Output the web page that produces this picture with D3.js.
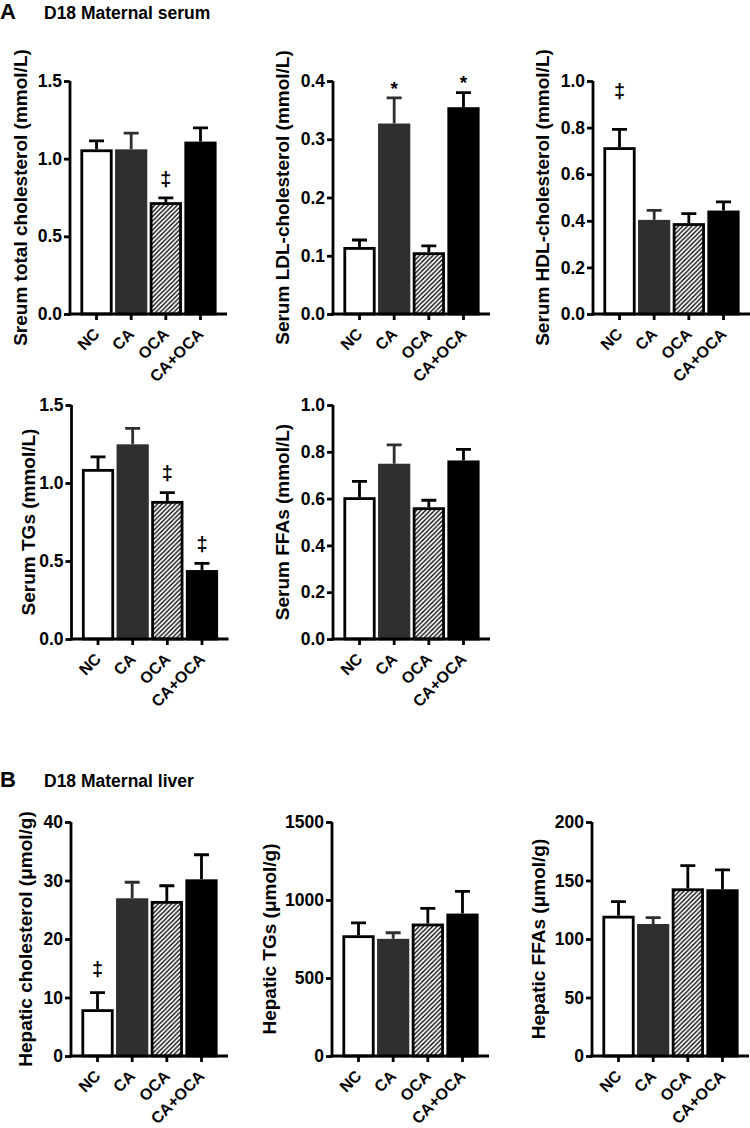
<!DOCTYPE html>
<html>
<head>
<meta charset="utf-8">
<script src="https://cdn.jsdelivr.net/npm/d3@7/dist/d3.min.js"></script>
<style>
  html, body { margin: 0; padding: 0; background: #fff; }
  svg { display: block; font-family: "Liberation Sans", Arial, Helvetica, sans-serif; font-weight: bold; }
</style>
</head>
<body>
<svg id="chart" width="750" height="1128"></svg>
<script>
// ---------------- DATA ----------------
const categories = ["NC", "CA", "OCA", "CA+OCA"];

const serumTCMean  = [1.06, 1.06, 0.72, 1.11];
const serumTCErr   = [0.055, 0.105, 0.028, 0.088];
const serumTCMarks = ["", "", "‡", ""];
const serumTCTicks = [0, 0.5, 1.0, 1.5];

const serumLDLMean  = [0.115, 0.327, 0.106, 0.355];
const serumLDLErr   = [0.012, 0.044, 0.011, 0.025];
const serumLDLMarks = ["", "*", "", "*"];
const serumLDLTicks = [0, 0.1, 0.2, 0.3, 0.4];

const serumHDLMean  = [0.716, 0.404, 0.39, 0.444];
const serumHDLErr   = [0.076, 0.041, 0.041, 0.037];
const serumHDLMarks = ["‡", "", "", ""];
const serumHDLTicks = [0, 0.2, 0.4, 0.6, 0.8, 1.0];

const serumTGMean  = [1.09, 1.248, 0.885, 0.442];
const serumTGErr   = [0.077, 0.102, 0.053, 0.043];
const serumTGMarks = ["", "", "‡", "‡"];
const serumTGTicks = [0, 0.5, 1.0, 1.5];

const serumFFAMean  = [0.606, 0.749, 0.563, 0.763];
const serumFFAErr   = [0.068, 0.081, 0.030, 0.047];
const serumFFAMarks = ["", "", "", ""];
const serumFFATicks = [0, 0.2, 0.4, 0.6, 0.8, 1.0];

const hepCholMean  = [8.0, 26.96, 26.5, 30.2];
const hepCholErr   = [2.85, 2.74, 2.6, 4.2];
const hepCholMarks = ["‡", "", "", ""];
const hepCholTicks = [0, 10, 20, 30, 40];

const hepTGMean  = [774, 751, 849, 913];
const hepTGErr   = [79, 39, 97, 142];
const hepTGMarks = ["", "", "", ""];
const hepTGTicks = [0, 500, 1000, 1500];

const hepFFAMean  = [119.9, 112.8, 143.3, 142.5];
const hepFFAErr   = [12.0, 5.4, 19.4, 16.5];
const hepFFAMarks = ["", "", "", ""];
const hepFFATicks = [0, 50, 100, 150, 200];

const sectionLetters = ["A", "B"];
const sectionTitles  = ["D18 Maternal serum", "D18 Maternal liver"];

// ---------------- LAYOUT / STYLE ----------------
const rows = [[81, 314], [405, 639], [822, 1056]];
const panels = [
  {mean: serumTCMean,  err: serumTCErr,  marks: serumTCMarks,  ticks: serumTCTicks,  fmt: ".1f", title: "Sreum total cholesterol (mmol/L)", ax: 70,  row: 0, lx: 22,  gap: 18},
  {mean: serumLDLMean, err: serumLDLErr, marks: serumLDLMarks, ticks: serumLDLTicks, fmt: ".1f", title: "Serum LDL-cholesterol (mmol/L)",   ax: 333, row: 0, lx: 284, gap: 15},
  {mean: serumHDLMean, err: serumHDLErr, marks: serumHDLMarks, ticks: serumHDLTicks, fmt: ".1f", title: "Serum HDL-cholesterol (mmol/L)",   ax: 593, row: 0, lx: 544, gap: 38},
  {mean: serumTGMean,  err: serumTGErr,  marks: serumTGMarks,  ticks: serumTGTicks,  fmt: ".1f", title: "Serum TGs (mmol/L)",               ax: 71.5, row: 1, lx: 30, gap: 19},
  {mean: serumFFAMean, err: serumFFAErr, marks: serumFFAMarks, ticks: serumFFATicks, fmt: ".1f", title: "Serum FFAs (mmol/L)",              ax: 333, row: 1, lx: 284, gap: 18},
  {mean: hepCholMean,  err: hepCholErr,  marks: hepCholMarks,  ticks: hepCholTicks,  fmt: "d",   title: "Hepatic cholesterol (μmol/g)",     ax: 71,  row: 2, lx: 27,  gap: 23},
  {mean: hepTGMean,    err: hepTGErr,    marks: hepTGMarks,    ticks: hepTGTicks,    fmt: "d",   title: "Hepatic TGs (μmol/g)",             ax: 332, row: 2, lx: 271, gap: 18},
  {mean: hepFFAMean,   err: hepFFAErr,   marks: hepFFAMarks,   ticks: hepFFATicks,   fmt: "d",   title: "Hepatic FFAs (μmol/g)",            ax: 592, row: 2, lx: 540, gap: 18}
];
const fills   = ["#ffffff", "#2f2f2f", "url(#hatch)", "#000000"];
const strokes = ["#000000", "#2f2f2f", "#000000", "#000000"];
const errCols = ["#000000", "#2f2f2f", "#000000", "#000000"];
const AXIS_LEN = 157;
const LW = 2.8;

const svg = d3.select("#chart");
svg.append("rect").attr("width", 750).attr("height", 1128).attr("fill", "#fff");

const defs = svg.append("defs");
const pat = defs.append("pattern").attr("id", "hatch")
  .attr("patternUnits", "userSpaceOnUse").attr("width", 4.5).attr("height", 4.5);
pat.append("rect").attr("width", 4.5).attr("height", 4.5).attr("fill", "#fff");
pat.append("path").attr("d", "M-1,1 L1,-1 M0,4.5 L4.5,0 M3.5,5.5 L5.5,3.5")
  .attr("stroke", "#000").attr("stroke-width", 1.3);

// section headings
const headY = [19, 787];
sectionLetters.forEach((L, i) => {
  svg.append("text").attr("x", 0).attr("y", headY[i]).attr("font-size", 22).text(L);
  svg.append("text").attr("x", 44).attr("y", headY[i]).attr("font-size", 17.5).text(sectionTitles[i]);
});

panels.forEach(p => {
  const [yTop, y0] = rows[p.row];
  const g = svg.append("g");
  const x = d3.scaleBand().domain(categories).range([p.ax, p.ax + AXIS_LEN])
    .paddingInner(0.07).paddingOuter(0.3);
  const y = d3.scaleLinear().domain([0, p.ticks[p.ticks.length - 1]]).range([y0, yTop]);

  const data = categories.map((c, i) => ({c, i, m: p.mean[i], e: p.err[i], mk: p.marks[i]}));

  // bars
  g.selectAll("rect.bar").data(data).join("rect").attr("class", "bar")
    .attr("x", d => x(d.c) + LW / 2)
    .attr("width", x.bandwidth() - LW)
    .attr("y", d => y(d.m) + LW / 2)
    .attr("height", d => y0 - y(d.m) - LW / 2)
    .attr("fill", d => fills[d.i])
    .attr("stroke", d => strokes[d.i])
    .attr("stroke-width", LW);

  // error bars
  const cap = 15;
  g.selectAll("path.err").data(data).join("path").attr("class", "err")
    .attr("d", d => {
      const cx = x(d.c) + x.bandwidth() / 2;
      const yt = y(d.m + d.e), yb = y(d.m);
      return `M${cx},${yb}V${yt}M${cx - cap / 2},${yt}H${cx + cap / 2}`;
    })
    .attr("fill", "none").attr("stroke", d => errCols[d.i]).attr("stroke-width", LW);

  // significance marks
  g.selectAll("text.mark").data(data.filter(d => d.mk)).join("text").attr("class", "mark")
    .attr("x", d => x(d.c) + x.bandwidth() / 2)
    .attr("y", d => y(d.m + d.e) - p.gap)
    .attr("dy", d => d.mk === "*" ? "0.62em" : "0.32em")
    .attr("text-anchor", "middle").attr("font-size", d => d.mk === "*" ? 19 : 20)
    .attr("fill", "#000")
    .text(d => d.mk);

  // y axis
  const yAxis = g.append("g").attr("transform", `translate(${p.ax},0)`)
    .call(d3.axisLeft(y).tickValues(p.ticks).tickFormat(d3.format(p.fmt)).tickSizeInner(6).tickSizeOuter(0).tickPadding(2));
  yAxis.select(".domain").attr("stroke-width", LW).attr("stroke", "#000")
    .attr("d", `M0,${y0 + LW / 2}V${yTop}`);
  yAxis.selectAll(".tick line").attr("stroke-width", LW);
  yAxis.selectAll(".tick text").attr("font-size", 17.5).attr("font-family", null).attr("fill", "#000");

  // x axis
  const xAxis = g.append("g").attr("transform", `translate(0,${y0})`)
    .call(d3.axisBottom(x).tickSizeInner(6).tickSizeOuter(0).tickFormat(""));
  xAxis.select(".domain").attr("stroke-width", LW).attr("stroke", "#000")
    .attr("d", `M${p.ax - LW / 2},0H${p.ax + AXIS_LEN}`);
  xAxis.selectAll(".tick line").attr("stroke-width", LW);
  xAxis.selectAll(".tick text").remove();

  g.selectAll("text.xl").data(data).join("text").attr("class", "xl")
    .attr("transform", d => `translate(${x(d.c) + x.bandwidth() / 2 + 4},${y0 + 21}) rotate(-45)`)
    .attr("text-anchor", "end").attr("font-size", 16).text(d => d.c);

  // y title
  g.append("text")
    .attr("transform", `translate(${p.lx + 5},${(yTop + y0) / 2}) rotate(-90)`)
    .attr("text-anchor", "middle").attr("font-size", 19).text(p.title);
});
</script>
</body>
</html>
